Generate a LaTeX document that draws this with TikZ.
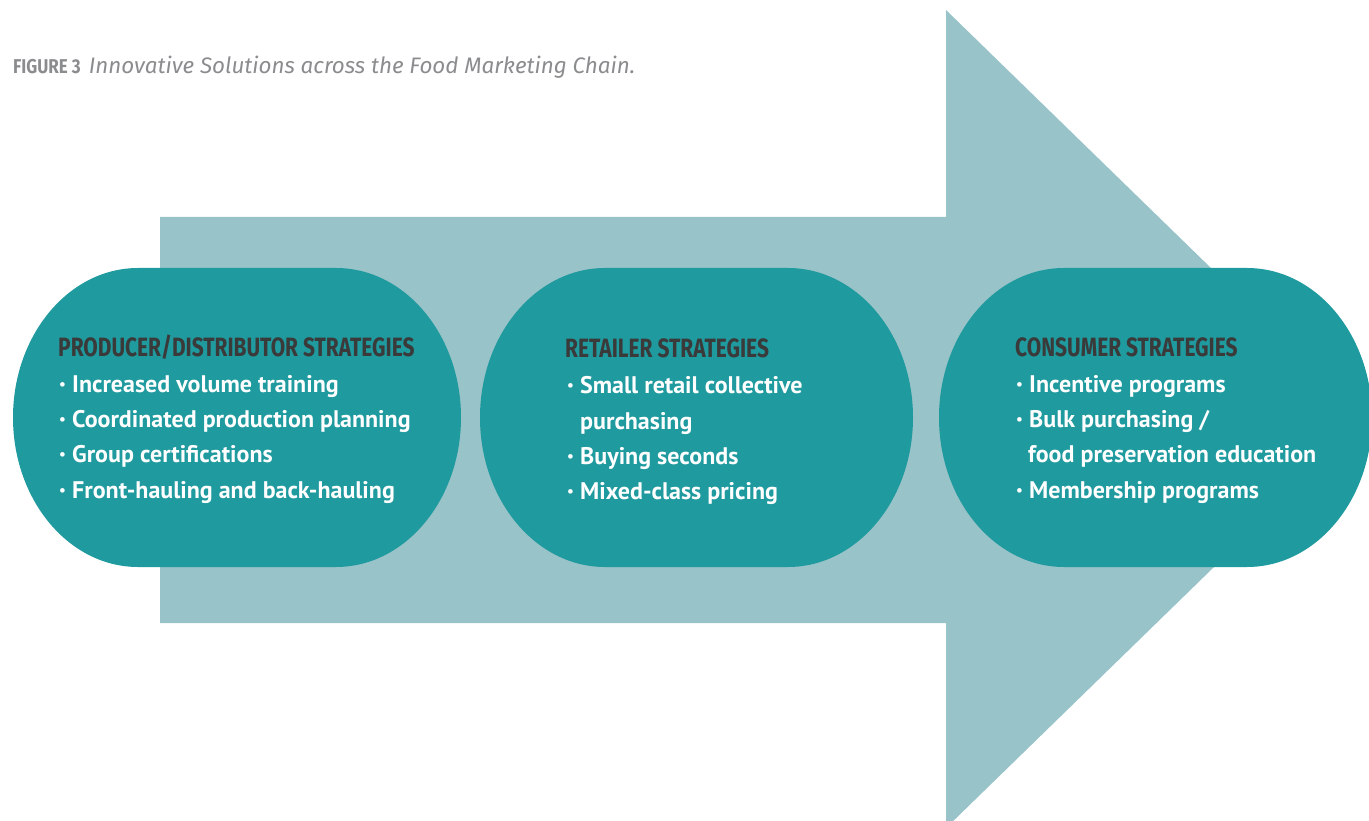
\documentclass[tikz,border=0pt]{standalone}
\usepackage{fontspec}
\newfontfamily\bodyfont{PT Sans}
\newfontfamily\headfont[FakeStretch=0.79]{Fira Sans}
\newfontfamily\titlefont[FakeStretch=0.85]{Fira Sans}
\newfontfamily\titleital{Fira Sans}
\definecolor{lightteal}{HTML}{98C3C8}
\definecolor{darkteal}{HTML}{1F9A9F}
\definecolor{headgray}{HTML}{3A3A3A}
\definecolor{titlegray}{HTML}{8A8C8E}
\newcommand{\mybul}{\makebox[13pt][l]{\raisebox{2.5pt}{\fontsize{15}{15}\selectfont •}}}
\begin{document}
\begin{tikzpicture}[x=1pt,y=-1pt,
  pill/.style={fill=darkteal,draw=none},
  headtxt/.style={anchor=base west,inner sep=0pt,text=headgray,font=\headfont\bfseries\fontsize{26.5}{30}\selectfont},
  item/.style={anchor=base west,inner sep=0pt,text=white,font=\bodyfont\bfseries\fontsize{24}{28}\selectfont},
  bul/.style={anchor=base west,inner sep=0pt,text=white,font=\bodyfont\bfseries\fontsize{24}{28}\selectfont}]
\useasboundingbox (0,0) rectangle (1369,821);
% big arrow
\begin{scope}
\clip (0,0) rectangle (1369,821);
\fill[lightteal] (160,217) -- (946,217) -- (946,10) -- (1366,419) -- (946,828) -- (946,623) -- (160,623) -- cycle;
\end{scope}
% pills
\newcommand{\pillshape}[4]{% x1,x2,y1,y2
  \fill[pill] (#1+125,#3) -- (#2-125,#3) arc[start angle=-90,end angle=90,x radius=125,y radius=149.5]
   -- (#1+125,#4) arc[start angle=90,end angle=270,x radius=125,y radius=149.5] -- cycle;}
\begin{scope}
\clip (0,0) rectangle (1369,821);
\pillshape{13}{461}{268}{567}
\pillshape{480}{913}{268}{567}
\pillshape{939}{1372}{268}{567}
\end{scope}
% title
\node[anchor=base west,inner sep=0pt,text=titlegray] (title) at (13,74)
  {{\titlefont\bfseries\fontsize{20}{22}\selectfont FIGURE 3}\hspace{8pt}{\titleital\itshape\fontsize{22.4}{24}\selectfont Innovative Solutions across the Food Marketing Chain.}};
% left
\node[headtxt] (h1) at (58,356) {PRODUCER/DISTRIBUTOR STRATEGIES};
\node[bul] (b11) at (59,392) {\mybul Increased volume training};
\node[bul] (b12) at (59,427) {\mybul Coordinated production planning};
\node[bul] (b13) at (59,462) {\mybul Group certifications};
\node[bul] (b14) at (59,498) {\mybul Front-hauling and back-hauling};
% middle
\node[headtxt] (h2) at (565,357) {RETAILER STRATEGIES};
\node[bul] (b21) at (567,393) {\mybul Small retail collective};
\node[item] (b22) at (580,429) {purchasing};
\node[bul] (b23) at (567,464) {\mybul Buying seconds};
\node[bul] (b24) at (567,499) {\mybul Mixed-class pricing};
% right
\node[headtxt] (h3) at (1015,356) {CONSUMER STRATEGIES};
\node[bul] (b31) at (1016,392) {\mybul Incentive programs};
\node[bul] (b32) at (1016,427) {\mybul Bulk purchasing /};
\node[item] (b33) at (1028,462) {food preservation education};
\node[bul] (b34) at (1016,498) {\mybul Membership programs};
\end{tikzpicture}
\end{document}
